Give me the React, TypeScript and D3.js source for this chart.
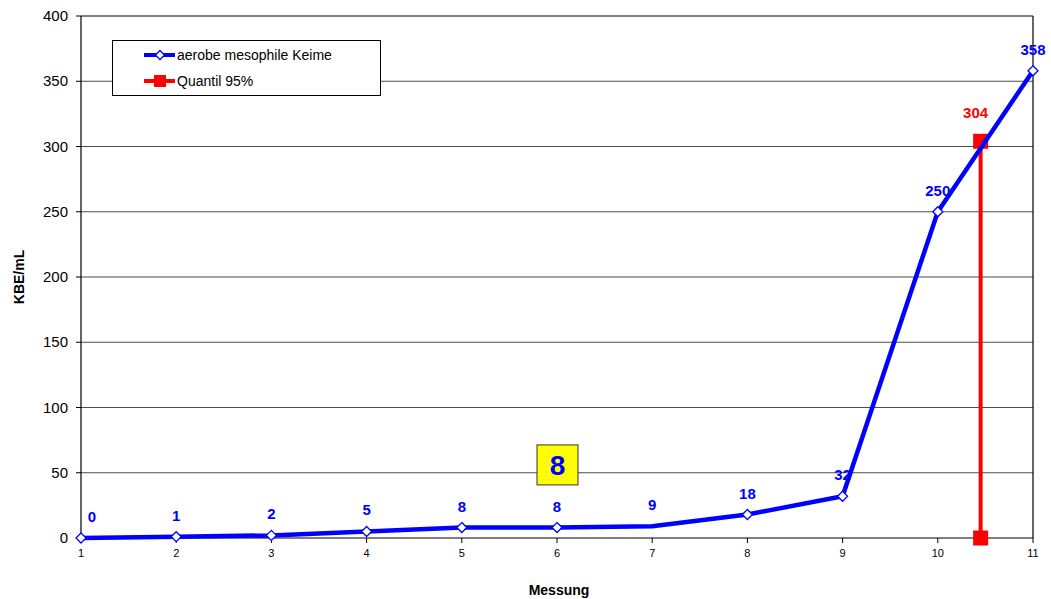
import React from 'react';
import * as d3 from 'd3';

// Measurements of aerobic mesophilic germs, with the 95% quantile marker.
const messung = [1, 2, 3, 4, 5, 6, 7, 8, 9, 10, 11];
const kbe = [0, 1, 2, 5, 8, 8, 9, 18, 32, 250, 358];
const showMarker = [true, true, true, true, true, true, false, true, true, true, true];
const quantilX = 10.45;
const quantilValue = 304;
const medianValue = 8;
const medianPos = { x: 6, y: 56 };
const yTicks = [0, 50, 100, 150, 200, 250, 300, 350, 400];

const W = 1051;
const H = 599;
const margin = { left: 81, right: 18, top: 16, bottom: 61 };
const FONT = '"Liberation Sans", Arial, sans-serif';
const BLUE = '#0000FF';
const RED = '#FF0000';

export default function App() {
  const x = d3.scaleLinear().domain([1, 11]).range([margin.left, W - margin.right]);
  const y = d3.scaleLinear().domain([0, 400]).range([H - margin.bottom, margin.top]);

  const line = d3.line<number>()
    .x((_, i) => x(messung[i]))
    .y((d) => y(d));

  const x0 = x(1);
  const x1 = x(11);
  const yTop = y(400);
  const yBot = y(0);

  const diamond = (cx: number, cy: number, r: number) =>
    `M${cx},${cy - r}L${cx + r},${cy}L${cx},${cy + r}L${cx - r},${cy}Z`;

  return (
    <svg width={W} height={H} style={{ position: 'absolute', left: 0, top: 0, background: 'white' }}
      fontFamily={FONT}>
      {/* grid lines */}
      {yTicks.filter((t) => t > 0 && t < 400).map((t) => (
        <line key={t} x1={x0} x2={x1} y1={y(t)} y2={y(t)} stroke="#4d4d4d" strokeWidth={1.2} />
      ))}
      {/* plot frame */}
      <line x1={x0} x2={x1} y1={yTop} y2={yTop} stroke="#000" strokeWidth={1.2} />
      <line x1={x1} x2={x1} y1={yTop} y2={yBot} stroke="#000" strokeWidth={1.2} />
      <line x1={x0} x2={x0} y1={yTop} y2={yBot} stroke="#000" strokeWidth={1.2} />
      <line x1={x0} x2={x1} y1={yBot} y2={yBot} stroke="#000" strokeWidth={1.2} />

      {/* y axis ticks */}
      {yTicks.map((t) => (
        <g key={t}>
          <line x1={x0 - 5} x2={x0} y1={y(t)} y2={y(t)} stroke="#000" />
          <text x={x0 - 13} y={y(t) + 5} textAnchor="end" fontSize={15} fill="#000">{t}</text>
        </g>
      ))}
      {/* x axis ticks */}
      {messung.map((m) => (
        <g key={m}>
          <line x1={x(m)} x2={x(m)} y1={yBot} y2={yBot + 5} stroke="#000" />
          <text x={x(m)} y={yBot + 19} textAnchor="middle" fontSize={11} fill="#000">{m}</text>
        </g>
      ))}

      {/* axis titles */}
      <text x={559} y={595} textAnchor="middle" fontSize={14} fontWeight="bold" fill="#000">Messung</text>
      <text transform={`translate(24,${(yTop + yBot) / 2}) rotate(-90)`} textAnchor="middle"
        fontSize={14} fontWeight="bold" fill="#000">KBE/mL</text>

      {/* quantile */}
      <line x1={x(quantilX)} x2={x(quantilX)} y1={y(0)} y2={y(quantilValue)} stroke={RED} strokeWidth={4} />
      {[0, quantilValue].map((v, i) => (
        <rect key={i} x={x(quantilX) - 7.5} y={y(v) - 7.5} width={15} height={15} fill={RED} />
      ))}
      <text x={x(quantilX) - 5} y={y(quantilValue) - 23} textAnchor="middle" fontSize={15}
        fontWeight="bold" fill={RED}>{quantilValue}</text>

      {/* series */}
      <path d={line(kbe) ?? ''} fill="none" stroke={BLUE} strokeWidth={4.5} strokeLinejoin="round" />
      {kbe.map((v, i) => showMarker[i] && (
        <path key={i} d={diamond(x(messung[i]), y(v), 5)} fill="#fff" stroke={BLUE} strokeWidth={1.3} />
      ))}
      {kbe.map((v, i) => (
        <text key={i} x={x(messung[i]) + (i === 0 ? 11 : 0)} y={y(v) - 16} textAnchor="middle"
          fontSize={15} fontWeight="bold" fill={BLUE}>{v}</text>
      ))}

      {/* median box */}
      <rect x={x(medianPos.x) - 20} y={y(medianPos.y) - 20} width={41} height={40} fill="#FFFF00"
        stroke="#333" strokeWidth={1} />
      <text x={x(medianPos.x) + 0.5} y={y(medianPos.y) + 10} textAnchor="middle" fontSize={28}
        fontWeight="bold" fill={BLUE}>{medianValue}</text>

      {/* legend */}
      <rect x={112.5} y={40.5} width={268} height={55} fill="#fff" stroke="#000" strokeWidth={1} />
      <line x1={144} x2={175} y1={55} y2={55} stroke={BLUE} strokeWidth={4} />
      <path d={diamond(160, 55, 4.5)} fill="#fff" stroke={BLUE} strokeWidth={1.3} />
      <text x={177} y={60} fontSize={14} fill="#000">aerobe mesophile Keime</text>
      <line x1={144} x2={175} y1={81} y2={81} stroke={RED} strokeWidth={4} />
      <rect x={154} y={75} width={12} height={12} fill={RED} />
      <text x={177} y={86} fontSize={14} fill="#000">Quantil 95%</text>
    </svg>
  );
}
